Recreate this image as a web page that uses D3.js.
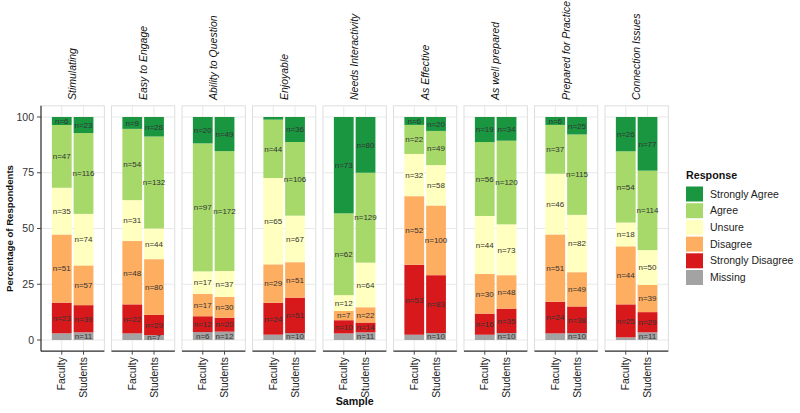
<!DOCTYPE html>
<html><head><meta charset="utf-8">
<script src="https://cdn.jsdelivr.net/npm/d3@7"></script>
<style>
html,body{margin:0;padding:0;background:#fff;}
svg{display:block;font-family:"Liberation Sans",Arial,sans-serif;}
</style></head>
<body>
<svg id="chart" width="800" height="413"></svg>
<script>
const statements = ["Stimulating","Easy to Engage","Ability to Question","Enjoyable","Needs Interactivity","As Effective","As well prepared","Prepared for Practice","Connection Issues"];
const samples = ["Faculty","Students"];
const responses = ["Strongly Agree","Agree","Unsure","Disagree","Strongly Disagree","Missing"];
const responseColors = ["#1a9641","#a6d96a","#ffffbf","#fdae61","#d7191c","#a3a3a3"];
const yTicks = [0,25,50,75,100];

const stronglyAgreeFaculty     = [6,9,20,2,73,6,19,6,26];
const stronglyAgreeStudents    = [23,28,49,36,80,20,34,25,77];
const agreeFaculty             = [47,54,97,44,62,22,56,37,54];
const agreeStudents            = [116,132,172,106,129,49,120,115,114];
const unsureFaculty            = [35,31,17,65,12,32,44,46,18];
const unsureStudents           = [74,44,37,67,64,58,73,82,50];
const disagreeFaculty          = [51,48,17,29,7,52,30,51,44];
const disagreeStudents         = [57,80,30,51,22,100,48,49,39];
const stronglyDisagreeFaculty  = [23,22,12,24,10,53,16,24,25];
const stronglyDisagreeStudents = [39,29,20,51,14,83,35,38,29];
const missingFaculty           = [5,5,6,4,5,4,4,5,2];
const missingStudents          = [11,7,12,10,11,10,10,10,11];

const minLabelN = 6;

const facultyByResponse = [stronglyAgreeFaculty,agreeFaculty,unsureFaculty,disagreeFaculty,stronglyDisagreeFaculty,missingFaculty];
const studentsByResponse = [stronglyAgreeStudents,agreeStudents,unsureStudents,disagreeStudents,stronglyDisagreeStudents,missingStudents];

const svg = d3.select("#chart");
const panelLeft = 41, panelW = 63.3, panelGap = 7.2;
const panelTop = 105.85, panelBottom = 351.15;

const y = d3.scaleLinear().domain([-5,105]).range([panelBottom, panelTop]);
const color = d3.scaleOrdinal().domain(responses).range(responseColors);
const facet = d3.scaleBand().domain(statements).range([panelLeft, panelLeft + statements.length*panelW + (statements.length-1)*panelGap]).paddingInner(panelGap/(panelW+panelGap)).paddingOuter(0);
// ggplot-like discrete axis: expand 0.6 units each side, bar width 0.9
const xInner = d3.scaleBand().domain(samples).range([0, facet.bandwidth()]).paddingInner(0.1/1.1).paddingOuter(0.55/1.1);

// build stacked rows
function rowsFor(si, sample){
  const src = sample === "Faculty" ? facultyByResponse : studentsByResponse;
  const counts = responses.map((r,ri)=>src[ri][si]);
  const total = d3.sum(counts);
  // stack from bottom: Missing first, SA on top
  let cum = 0;
  const out = [];
  for (let ri = responses.length-1; ri >= 0; ri--){
    const p = counts[ri]/total*100;
    out.push({response:responses[ri], n:counts[ri], y0:cum, y1:cum+p});
    cum += p;
  }
  return out;
}

statements.forEach((st, si) => {
  const g = svg.append("g").attr("transform", `translate(${facet(st)},0)`);
  const w = facet.bandwidth();
  // panel background
  g.append("rect").attr("x",0).attr("y",panelTop).attr("width",w).attr("height",panelBottom-panelTop)
    .attr("fill","#fff").attr("stroke","#d6d6d6").attr("stroke-width",0.8);
  // grid
  g.selectAll(".hg").data(yTicks).join("line")
    .attr("x1",0).attr("x2",w).attr("y1",d=>y(d)).attr("y2",d=>y(d))
    .attr("stroke","#e3e3e3").attr("stroke-width",0.8);
  g.selectAll(".vg").data(samples).join("line")
    .attr("x1",d=>xInner(d)+xInner.bandwidth()/2).attr("x2",d=>xInner(d)+xInner.bandwidth()/2)
    .attr("y1",panelTop).attr("y2",panelBottom)
    .attr("stroke","#e3e3e3").attr("stroke-width",0.8);

  samples.forEach(sm => {
    const rows = rowsFor(si, sm);
    const bx = xInner(sm), bw = xInner.bandwidth();
    g.selectAll(null).data(rows).join("rect")
      .attr("x",bx).attr("width",bw)
      .attr("y",d=>y(d.y1)).attr("height",d=>y(d.y0)-y(d.y1))
      .attr("fill",d=>color(d.response));
    g.selectAll(null).data(rows.filter(d=>d.n>=minLabelN)).join("text")
      .attr("x",bx+bw/2).attr("y",d=>y((d.y0+d.y1)/2)).attr("dy","0.35em")
      .attr("text-anchor","middle").attr("font-size","8px").attr("fill","#333")
      .text(d=>"n="+d.n);
  });

  // x axis line & ticks
  g.append("line").attr("x1",0).attr("x2",w).attr("y1",panelBottom).attr("y2",panelBottom)
    .attr("stroke","#333").attr("stroke-width",1.2);
  samples.forEach(sm=>{
    const cx = xInner(sm)+xInner.bandwidth()/2;
    g.append("line").attr("x1",cx).attr("x2",cx).attr("y1",panelBottom).attr("y2",panelBottom+3.5)
      .attr("stroke","#333").attr("stroke-width",0.9);
    g.append("text").attr("transform",`translate(${cx},${panelBottom+6}) rotate(-90)`)
      .attr("text-anchor","end").attr("dy","0.35em").attr("font-size","10.3px").attr("fill","#222")
      .text(sm);
  });
  // strip text
  g.append("text").attr("transform",`translate(${w/2},100) rotate(-90)`)
    .attr("text-anchor","start").attr("dy","0.35em").attr("font-size","10.5px")
    .attr("font-style","italic").attr("fill","#111").text(st);
});

// y axis
const yAxisG = svg.append("g").attr("transform",`translate(${panelLeft},0)`);
yAxisG.append("line").attr("x1",0).attr("x2",0).attr("y1",panelTop).attr("y2",panelBottom)
  .attr("stroke","#333").attr("stroke-width",1.2);
yAxisG.selectAll(".yt").data(yTicks).join("line")
  .attr("x1",-4).attr("x2",0).attr("y1",d=>y(d)).attr("y2",d=>y(d)).attr("stroke","#333").attr("stroke-width",0.9);
yAxisG.selectAll(".yl").data(yTicks).join("text")
  .attr("x",-7).attr("y",d=>y(d)).attr("dy","0.35em").attr("text-anchor","end")
  .attr("font-size","10.5px").attr("fill","#333").text(d=>d);

svg.append("text").attr("transform",`translate(13,${(panelTop+panelBottom)/2}) rotate(-90)`)
  .attr("text-anchor","middle").attr("font-size","9.6px").attr("font-weight","bold").attr("fill","#111")
  .text("Percentage of Respondents");

const facetRange = facet.range();
svg.append("text").attr("x",(facetRange[0]+facetRange[1])/2).attr("y",405)
  .attr("text-anchor","middle").attr("font-size","10.7px").attr("font-weight","bold").attr("fill","#111")
  .text("Sample");

// legend
const lg = svg.append("g").attr("transform","translate(686,0)");
lg.append("text").attr("x",0).attr("y",179).attr("font-size","10.7px").attr("font-weight","bold").attr("fill","#111").text("Response");
const lstep = 16.7;
lg.selectAll(".lk").data(responses).join("rect")
  .attr("x",0).attr("y",(d,i)=>186.5+i*lstep).attr("width",17).attr("height",15)
  .attr("fill",d=>color(d));
lg.selectAll(".lt").data(responses).join("text")
  .attr("x",24).attr("y",(d,i)=>186.5+i*lstep+7.5).attr("dy","0.35em")
  .attr("font-size","10.5px").attr("fill","#222").text(d=>d);
</script>
</body></html>
